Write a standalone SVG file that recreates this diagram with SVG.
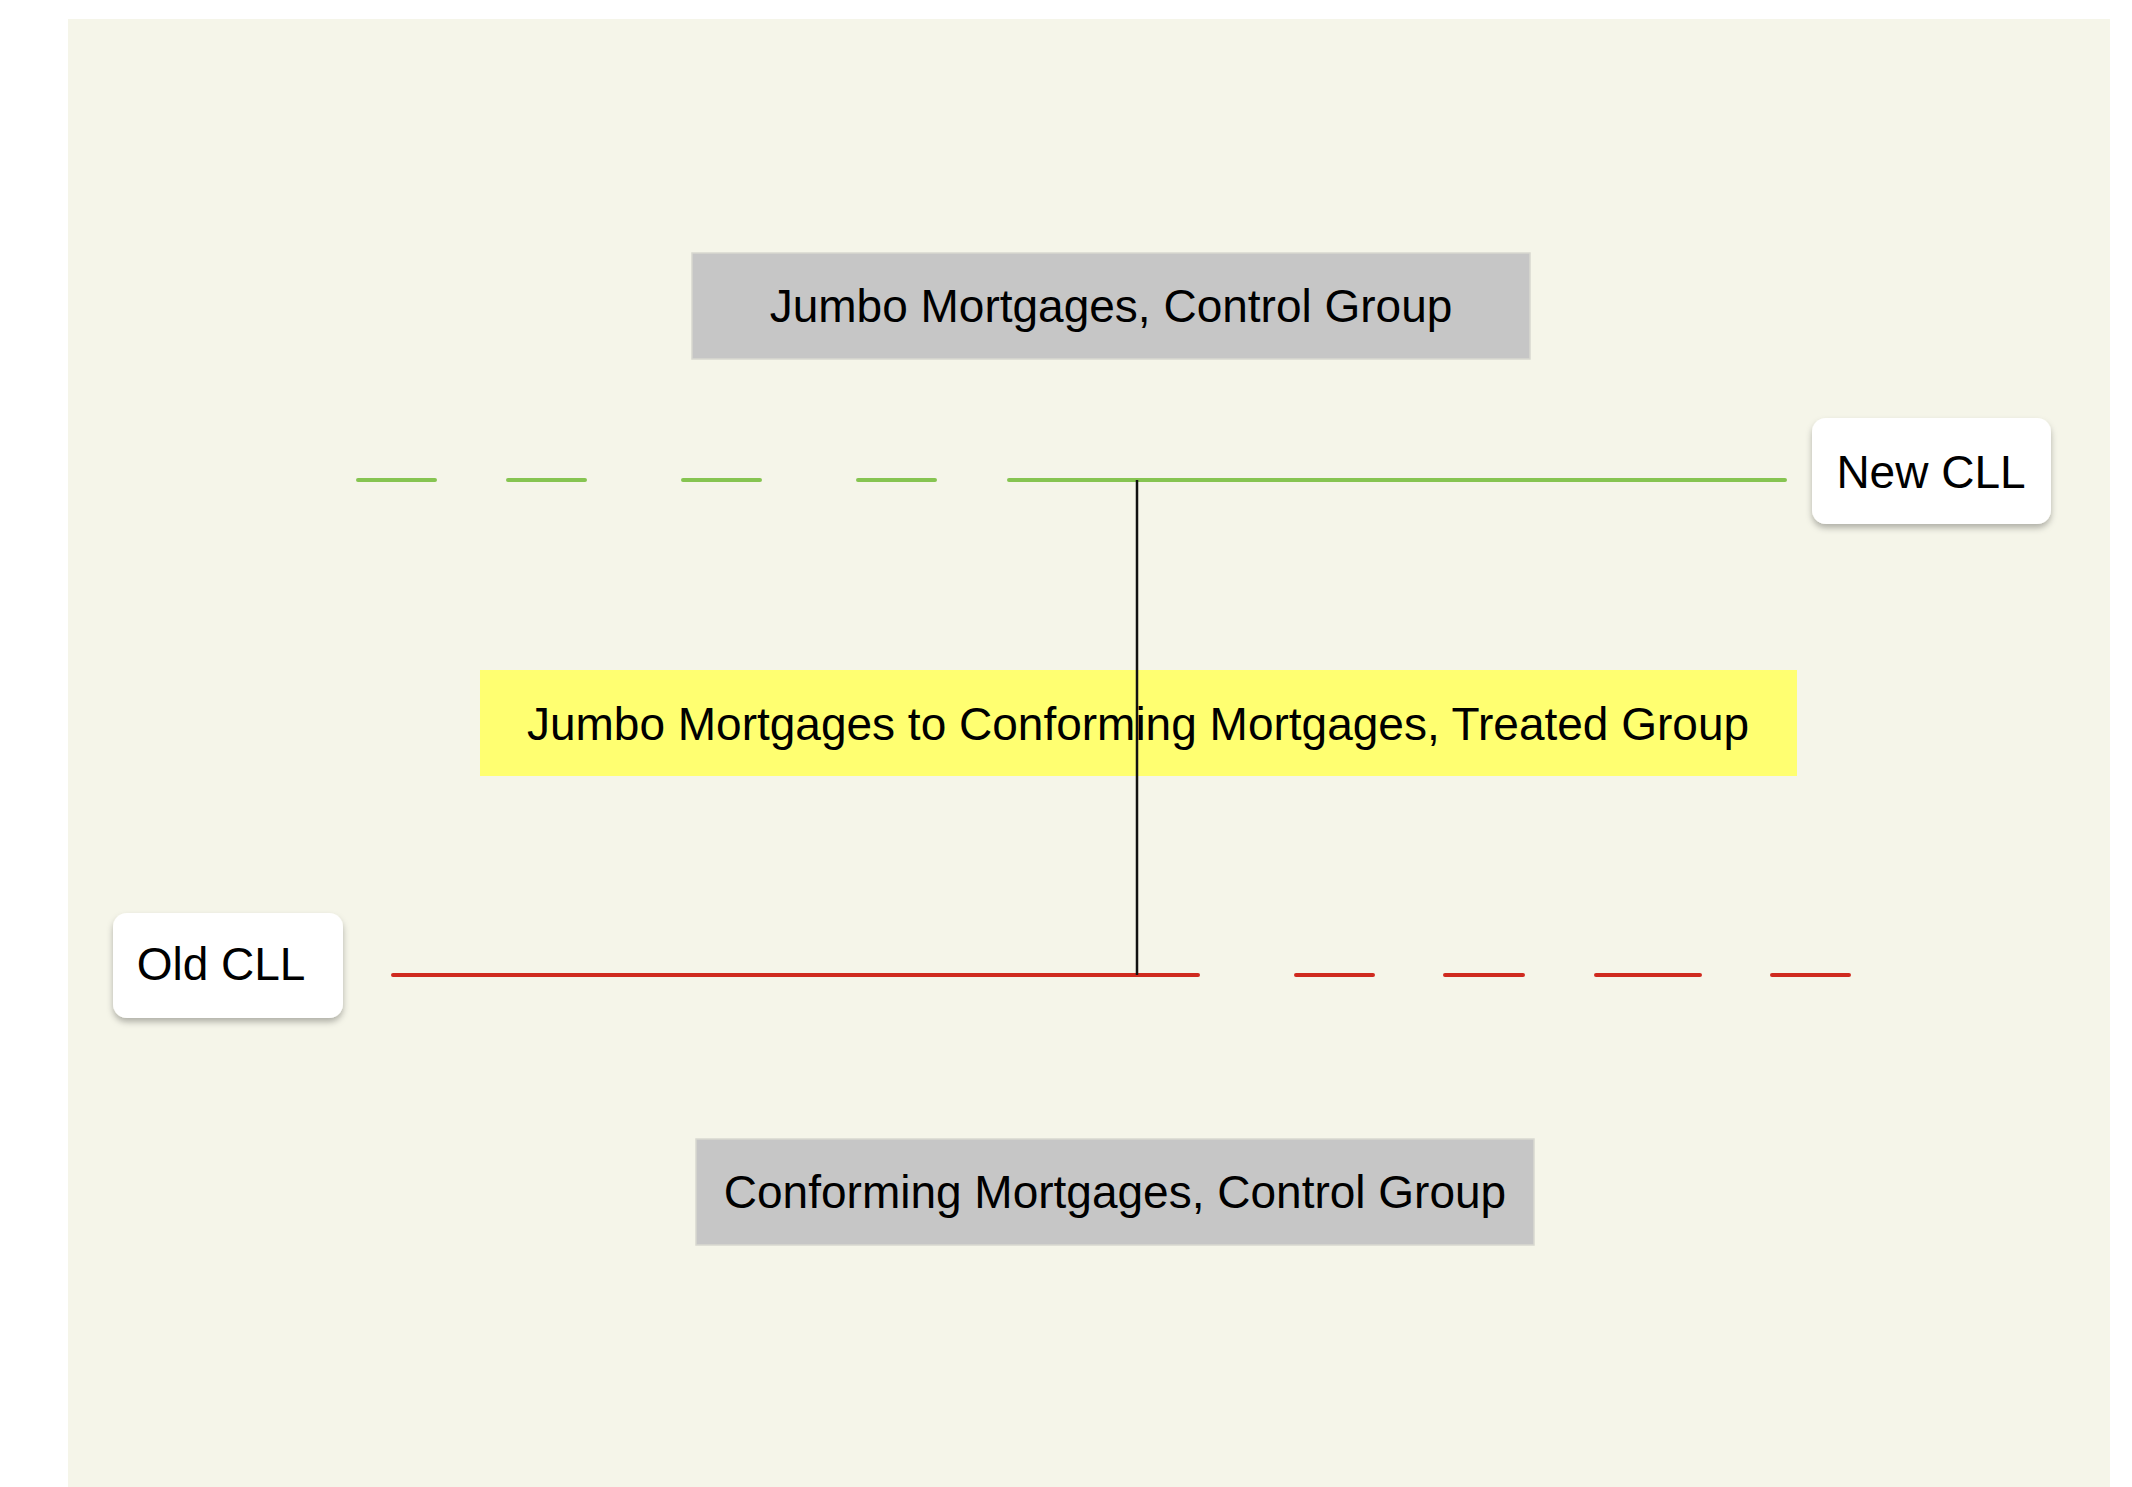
<svg xmlns="http://www.w3.org/2000/svg" width="2132" height="1487" viewBox="0 0 2132 1487">
<style>
.lbl{font-family:"Liberation Sans",Arial,Helvetica,sans-serif;font-size:46px;fill:#000;text-anchor:middle}
.gray{fill:#C6C6C6;stroke:#D8D8D0;stroke-width:1.5}
.card{fill:#FFFFFF;filter:url(#sh)}
.green{stroke:#86C451;stroke-width:4;stroke-linecap:round;fill:none}
.red{stroke:#CF2A1F;stroke-width:4;stroke-linecap:round;fill:none}
</style>
<defs>
<filter id="sh" x="-20%" y="-20%" width="140%" height="150%">
<feDropShadow dx="0" dy="4" stdDeviation="3" flood-color="#000" flood-opacity="0.28"/>
</filter>
</defs>
<rect x="0" y="0" width="2132" height="1487" fill="#FFFFFF"/>
<rect x="68" y="19" width="2042" height="1468" fill="#F5F5E9"/>
<g id="jumbo-control">
<rect class="gray" x="692" y="253" width="838" height="106"/>
<text class="lbl" x="1111" y="322">Jumbo Mortgages, Control Group</text>
</g>
<g id="treated">
<rect x="480" y="670" width="1317" height="106" fill="#FFFF71"/>
<text class="lbl" x="1138" y="740">Jumbo Mortgages to Conforming Mortgages, Treated Group</text>
</g>
<g id="conforming-control">
<rect class="gray" x="696" y="1139" width="838" height="106"/>
<text class="lbl" x="1115" y="1208">Conforming Mortgages, Control Group</text>
</g>
<g id="new-cll">
<rect class="card" x="1812" y="418" width="239" height="106" rx="14"/>
<text class="lbl" x="1931" y="488">New CLL</text>
</g>
<g id="old-cll">
<rect class="card" x="113" y="913" width="230" height="105" rx="14"/>
<text class="lbl" x="221" y="980">Old CLL</text>
</g>
<g id="connectors">
<path class="green" d="M358 480H435M508 480H585M683 480H760M858 480H935M1009 480H1785"/>
<path class="red" d="M393 975H1198M1296 975H1373M1445 975H1523M1596 975H1700M1772 975H1849"/>
<line x1="1137" y1="480" x2="1137" y2="975" stroke="#111" stroke-width="2.5"/>
</g>
</svg>
